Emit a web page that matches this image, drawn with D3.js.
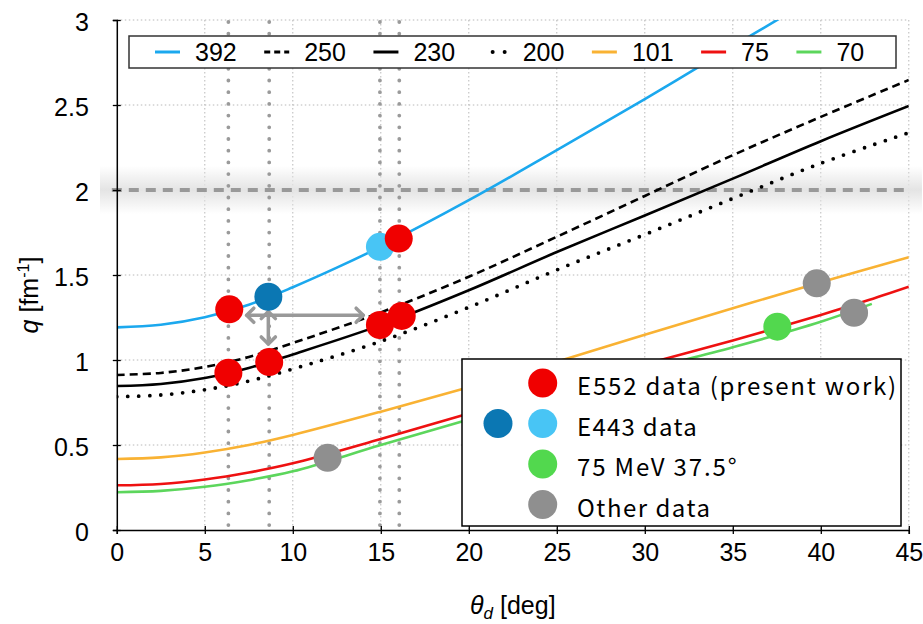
<!DOCTYPE html>
<html><head><meta charset="utf-8">
<script src="https://cdn.jsdelivr.net/npm/d3@7"></script>
<style>body{margin:0;background:#fff}svg{display:block}</style>
</head><body><svg id="c" width="923" height="624"></svg>
<script>
// ---------------- data ----------------
const xTicks = [0,5,10,15,20,25,30,35,40,45];
const yTicks = [0,0.5,1,1.5,2,2.5,3];
const seriesNames = ["392","250","230","200","101","75","70"];
const curve392 = [[0,1.192],[2.5,1.207],[5,1.251],[7.5,1.325],[10,1.428],[12.5,1.543],[15,1.667],[20,1.94],[25,2.235],[30,2.535],[35,2.845],[38,3.03]];
const curve250 = [[0,0.912],[2.5,0.924],[5,0.959],[7.5,1.018],[10,1.10],[15,1.28],[20,1.49],[25,1.725],[30,1.965],[35,2.205],[40,2.43],[45,2.647]];
const curve230 = [[0,0.847],[2.5,0.859],[5,0.894],[7.5,0.953],[10,1.033],[15,1.205],[20,1.41],[25,1.635],[30,1.85],[35,2.067],[40,2.287],[45,2.494]];
const curve200 = [[0,0.784],[2.5,0.794],[5,0.825],[7.5,0.876],[10,0.947],[15,1.11],[20,1.31],[25,1.53],[30,1.738],[35,1.95],[40,2.157],[45,2.337]];
const curve101 = [[0,0.418],[2.5,0.427],[5,0.456],[7.5,0.5],[10,0.559],[15,0.696],[20,0.84],[25,0.99],[30,1.148],[35,1.304],[40,1.458],[45,1.604]];
const curve75  = [[0,0.263],[2.5,0.271],[5,0.297],[7.5,0.338],[10,0.392],[15,0.535],[20,0.685],[25,0.83],[30,0.975],[35,1.115],[40,1.265],[42.5,1.345],[45,1.431]];
const curve70  = [[0,0.222],[2.5,0.23],[5,0.254],[7.5,0.293],[10,0.345],[15,0.5],[20,0.65],[25,0.795],[30,0.94],[35,1.075],[40,1.225],[42.9,1.33]];
const e552 = [[6.39,1.298],[16.02,1.714],[6.34,0.925],[8.66,0.988],[14.95,1.206],[16.19,1.259]];
const e443dark = [[8.61,1.372]];
const e443light = [[14.95,1.666]];
const mev75 = [[37.53,1.196]];
const other = [[11.98,0.425],[39.77,1.451],[41.89,1.278]];
const refAngles = [6.34,8.66,14.95,16.05];
const refQ = 2;
const arrows = [[7.38,1.263,14.0,1.263],[8.61,1.285,8.61,1.094]];
const legendLabels = ["E552 data (present work)","E443 data","75 MeV 37.5°","Other data"];
const xTitle = "[deg]";
const yTitle = "[fm";

// --------------- setup ---------------
const svg = d3.select("#c");
const L=116.8, R=908.8, T=20, B=530;
const x = d3.scaleLinear().domain([0,45]).range([L,R]);
const y = d3.scaleLinear().domain([0,3]).range([B,T]);
const FONT = "'Liberation Sans', Arial, Helvetica, sans-serif";
const defs = svg.append("defs");
defs.append("clipPath").attr("id","clip").append("rect").attr("x",L).attr("y",T).attr("width",R-L).attr("height",B-T);
const grad = defs.append("linearGradient").attr("id","band").attr("x1",0).attr("x2",0).attr("y1",0).attr("y2",1);
grad.append("stop").attr("offset","0%").attr("stop-color","#e4e4e4").attr("stop-opacity",0);
grad.append("stop").attr("offset","50%").attr("stop-color","#e4e4e4").attr("stop-opacity",1);
grad.append("stop").attr("offset","100%").attr("stop-color","#e4e4e4").attr("stop-opacity",0);

// grid
const grid = svg.append("g");
grid.selectAll(".gx").data(xTicks.filter(d=>d>0)).join("line")
  .attr("x1",d=>x(d)).attr("x2",d=>x(d)).attr("y1",T).attr("y2",B)
  .attr("stroke","#b8b8b8").attr("stroke-width",1).attr("stroke-dasharray","1.5,2.5");
grid.selectAll(".gy").data(yTicks.filter(d=>d>0)).join("line")
  .attr("y1",d=>y(d)).attr("y2",d=>y(d)).attr("x1",L).attr("x2",R)
  .attr("stroke","#b8b8b8").attr("stroke-width",1).attr("stroke-dasharray","1.5,2.5");

// shaded band + dashed q=2 line
svg.append("rect").attr("x",100).attr("width",822).attr("y",y(refQ)-24).attr("height",48).attr("fill","url(#band)");
svg.append("line").attr("x1",L-5).attr("x2",R).attr("y1",y(refQ)).attr("y2",y(refQ))
  .attr("stroke","#999").attr("stroke-width",4).attr("stroke-dasharray","10,7");

// vertical reference dotted lines
svg.append("g").selectAll("line").data(refAngles).join("line")
  .attr("x1",d=>x(d)).attr("x2",d=>x(d)).attr("y1",T+2).attr("y2",B-2)
  .attr("stroke","#9a9a9a").attr("stroke-width",3.8).attr("stroke-linecap","round").attr("stroke-dasharray","0,11.7");

// curves
const line = d3.line().x(d=>x(d[0])).y(d=>y(d[1])).curve(d3.curveCatmullRom.alpha(0.5));
const curves = [
  {d:curve392,c:"#1BA8EE",w:2.6,dash:null,cap:"butt"},
  {d:curve250,c:"#000",w:2.6,dash:"8,5",cap:"butt"},
  {d:curve230,c:"#000",w:2.6,dash:null,cap:"butt"},
  {d:curve200,c:"#000",w:3.8,dash:"0,11",cap:"round"},
  {d:curve101,c:"#F9B233",w:2.6,dash:null,cap:"butt"},
  {d:curve75,c:"#EE1111",w:2.6,dash:null,cap:"butt"},
  {d:curve70,c:"#5CD65C",w:2.6,dash:null,cap:"butt"}
];
const cg = svg.append("g").attr("clip-path","url(#clip)");
cg.selectAll("path").data(curves).join("path")
  .attr("d",d=>line(d.d)).attr("fill","none").attr("stroke",d=>d.c).attr("stroke-width",d=>d.w)
  .attr("stroke-dasharray",d=>d.dash).attr("stroke-linecap",d=>d.cap);

// arrows
const ag = svg.append("g").attr("stroke","#999").attr("stroke-width",3.5).attr("fill","none").attr("stroke-linecap","round").attr("stroke-linejoin","round");
arrows.forEach(a=>{
  const x1=x(a[0]),y1=y(a[1]),x2=x(a[2]),y2=y(a[3]);
  ag.append("line").attr("x1",x1).attr("y1",y1).attr("x2",x2).attr("y2",y2);
  const ang=Math.atan2(y2-y1,x2-x1), h=10;
  [[x2,y2,ang],[x1,y1,ang+Math.PI]].forEach(([px,py,a0])=>{
    const p1=[px-h*Math.cos(a0-Math.PI/4),py-h*Math.sin(a0-Math.PI/4)];
    const p2=[px-h*Math.cos(a0+Math.PI/4),py-h*Math.sin(a0+Math.PI/4)];
    ag.append("path").attr("d",`M${p1}L${px},${py}L${p2}`);
  });
});

// points
const R0=14;
const pts=[[other,"#8F8F8F"],[mev75,"#52D84E"],[e443dark,"#0B77B3"],[e443light,"#48C5F5"],[e552,"#F00000"]];
pts.forEach(([arr,col])=>{
  svg.append("g").selectAll("circle").data(arr).join("circle")
    .attr("cx",d=>x(d[0])).attr("cy",d=>y(d[1])).attr("r",R0).attr("fill",col);
});

// top legend
const lg = svg.append("g");
lg.append("rect").attr("x",129).attr("y",36).attr("width",767).attr("height",32).attr("fill","#fff").attr("stroke","#333").attr("stroke-width",1.5);
let cx=155; const ly=52;
const legSym=[
  {c:"#1BA8EE",dash:null,cap:"butt",w:3,a:0},
  {c:"#000",dash:"6,4",cap:"butt",w:3,a:0},
  {c:"#000",dash:null,cap:"butt",w:3,a:0},
  {c:"#000",dash:"0,12",cap:"round",w:4,a:10},
  {c:"#F9B233",dash:null,cap:"butt",w:3,a:0},
  {c:"#EE1111",dash:null,cap:"butt",w:3,a:0},
  {c:"#5CD65C",dash:null,cap:"butt",w:3,a:0}
];
seriesNames.forEach((nm,i)=>{
  const s=legSym[i];
  lg.append("line").attr("x1",cx+s.a).attr("x2",cx+25).attr("y1",ly).attr("y2",ly)
    .attr("stroke",s.c).attr("stroke-width",s.w).attr("stroke-dasharray",s.dash).attr("stroke-linecap",s.cap);
  const t=lg.append("text").attr("x",cx+40).attr("y",ly+9).attr("font-family",FONT).attr("font-size",25).attr("fill","#000").text(nm);
  cx = cx+40+t.node().getComputedTextLength()+27.5;
});

// bottom-right legend
const bg = svg.append("g");
bg.append("rect").attr("x",462).attr("y",359).attr("width",439).attr("height",167).attr("fill","#fff").attr("stroke","#000").attr("stroke-width",1.5);
const rowY=i=>383+i*40.5;
const legCols=[["#F00000"],["#0B77B3","#48C5F5"],["#52D84E"],["#8F8F8F"]];
legCols.forEach((cols,i)=>{
  cols.slice().reverse().forEach((c,j)=>{
    bg.append("circle").attr("cx",542.7-j*44.7).attr("cy",rowY(i)).attr("r",R0+0.5).attr("fill",c);
  });
});
bg.selectAll("text").data(legendLabels).join("text")
  .attr("x",577).attr("y",(d,i)=>rowY(i)+12)
  .attr("font-family","'Noto Sans CJK JP','Noto Sans',sans-serif").attr("font-size",24)
  .attr("textLength",d=>d.length*13.3).attr("lengthAdjust","spacing")
  .text(d=>d);

// axes
const xa = svg.append("g").attr("transform",`translate(0,${B})`)
  .call(d3.axisBottom(x).tickValues(xTicks).tickSize(4).tickPadding(9).tickFormat(d=>String(d)));
xa.select(".domain").attr("stroke","#000").attr("stroke-width",1.5);
xa.selectAll(".tick line").attr("y1",-4).attr("stroke-width",1.3);
xa.selectAll("text").attr("font-family",FONT).attr("font-size",25).attr("fill","#000");
const ya = svg.append("g").attr("transform",`translate(${L},0)`)
  .call(d3.axisLeft(y).tickValues(yTicks).tickSize(4).tickPadding(24).tickFormat(d=>String(d)));
ya.select(".domain").attr("stroke","#000").attr("stroke-width",1.5);
ya.selectAll(".tick line").attr("x1",4).attr("stroke-width",1.3);
ya.selectAll("text").attr("font-family",FONT).attr("font-size",25).attr("fill","#000").attr("dy","0.4em");

// axis titles
const xt = svg.append("text").attr("x",(L+R)/2).attr("y",614).attr("text-anchor","middle")
  .attr("font-family",FONT).attr("font-size",25).attr("fill","#000");
xt.append("tspan").attr("font-style","italic").text("θ");
xt.append("tspan").attr("font-style","italic").attr("font-size",17).attr("dy",5).text("d");
xt.append("tspan").attr("dy",-5).text(" "+xTitle);
const yt = svg.append("text").attr("transform",`translate(38,${(T+B)/2+20}) rotate(-90)`).attr("text-anchor","middle")
  .attr("font-family",FONT).attr("font-size",25).attr("fill","#000");
yt.append("tspan").attr("font-style","italic").text("q");
yt.append("tspan").text(" "+yTitle);
yt.append("tspan").attr("font-size",16).attr("dy",-9).text("-1");
yt.append("tspan").attr("dy",9).text("]");
</script></body></html>
